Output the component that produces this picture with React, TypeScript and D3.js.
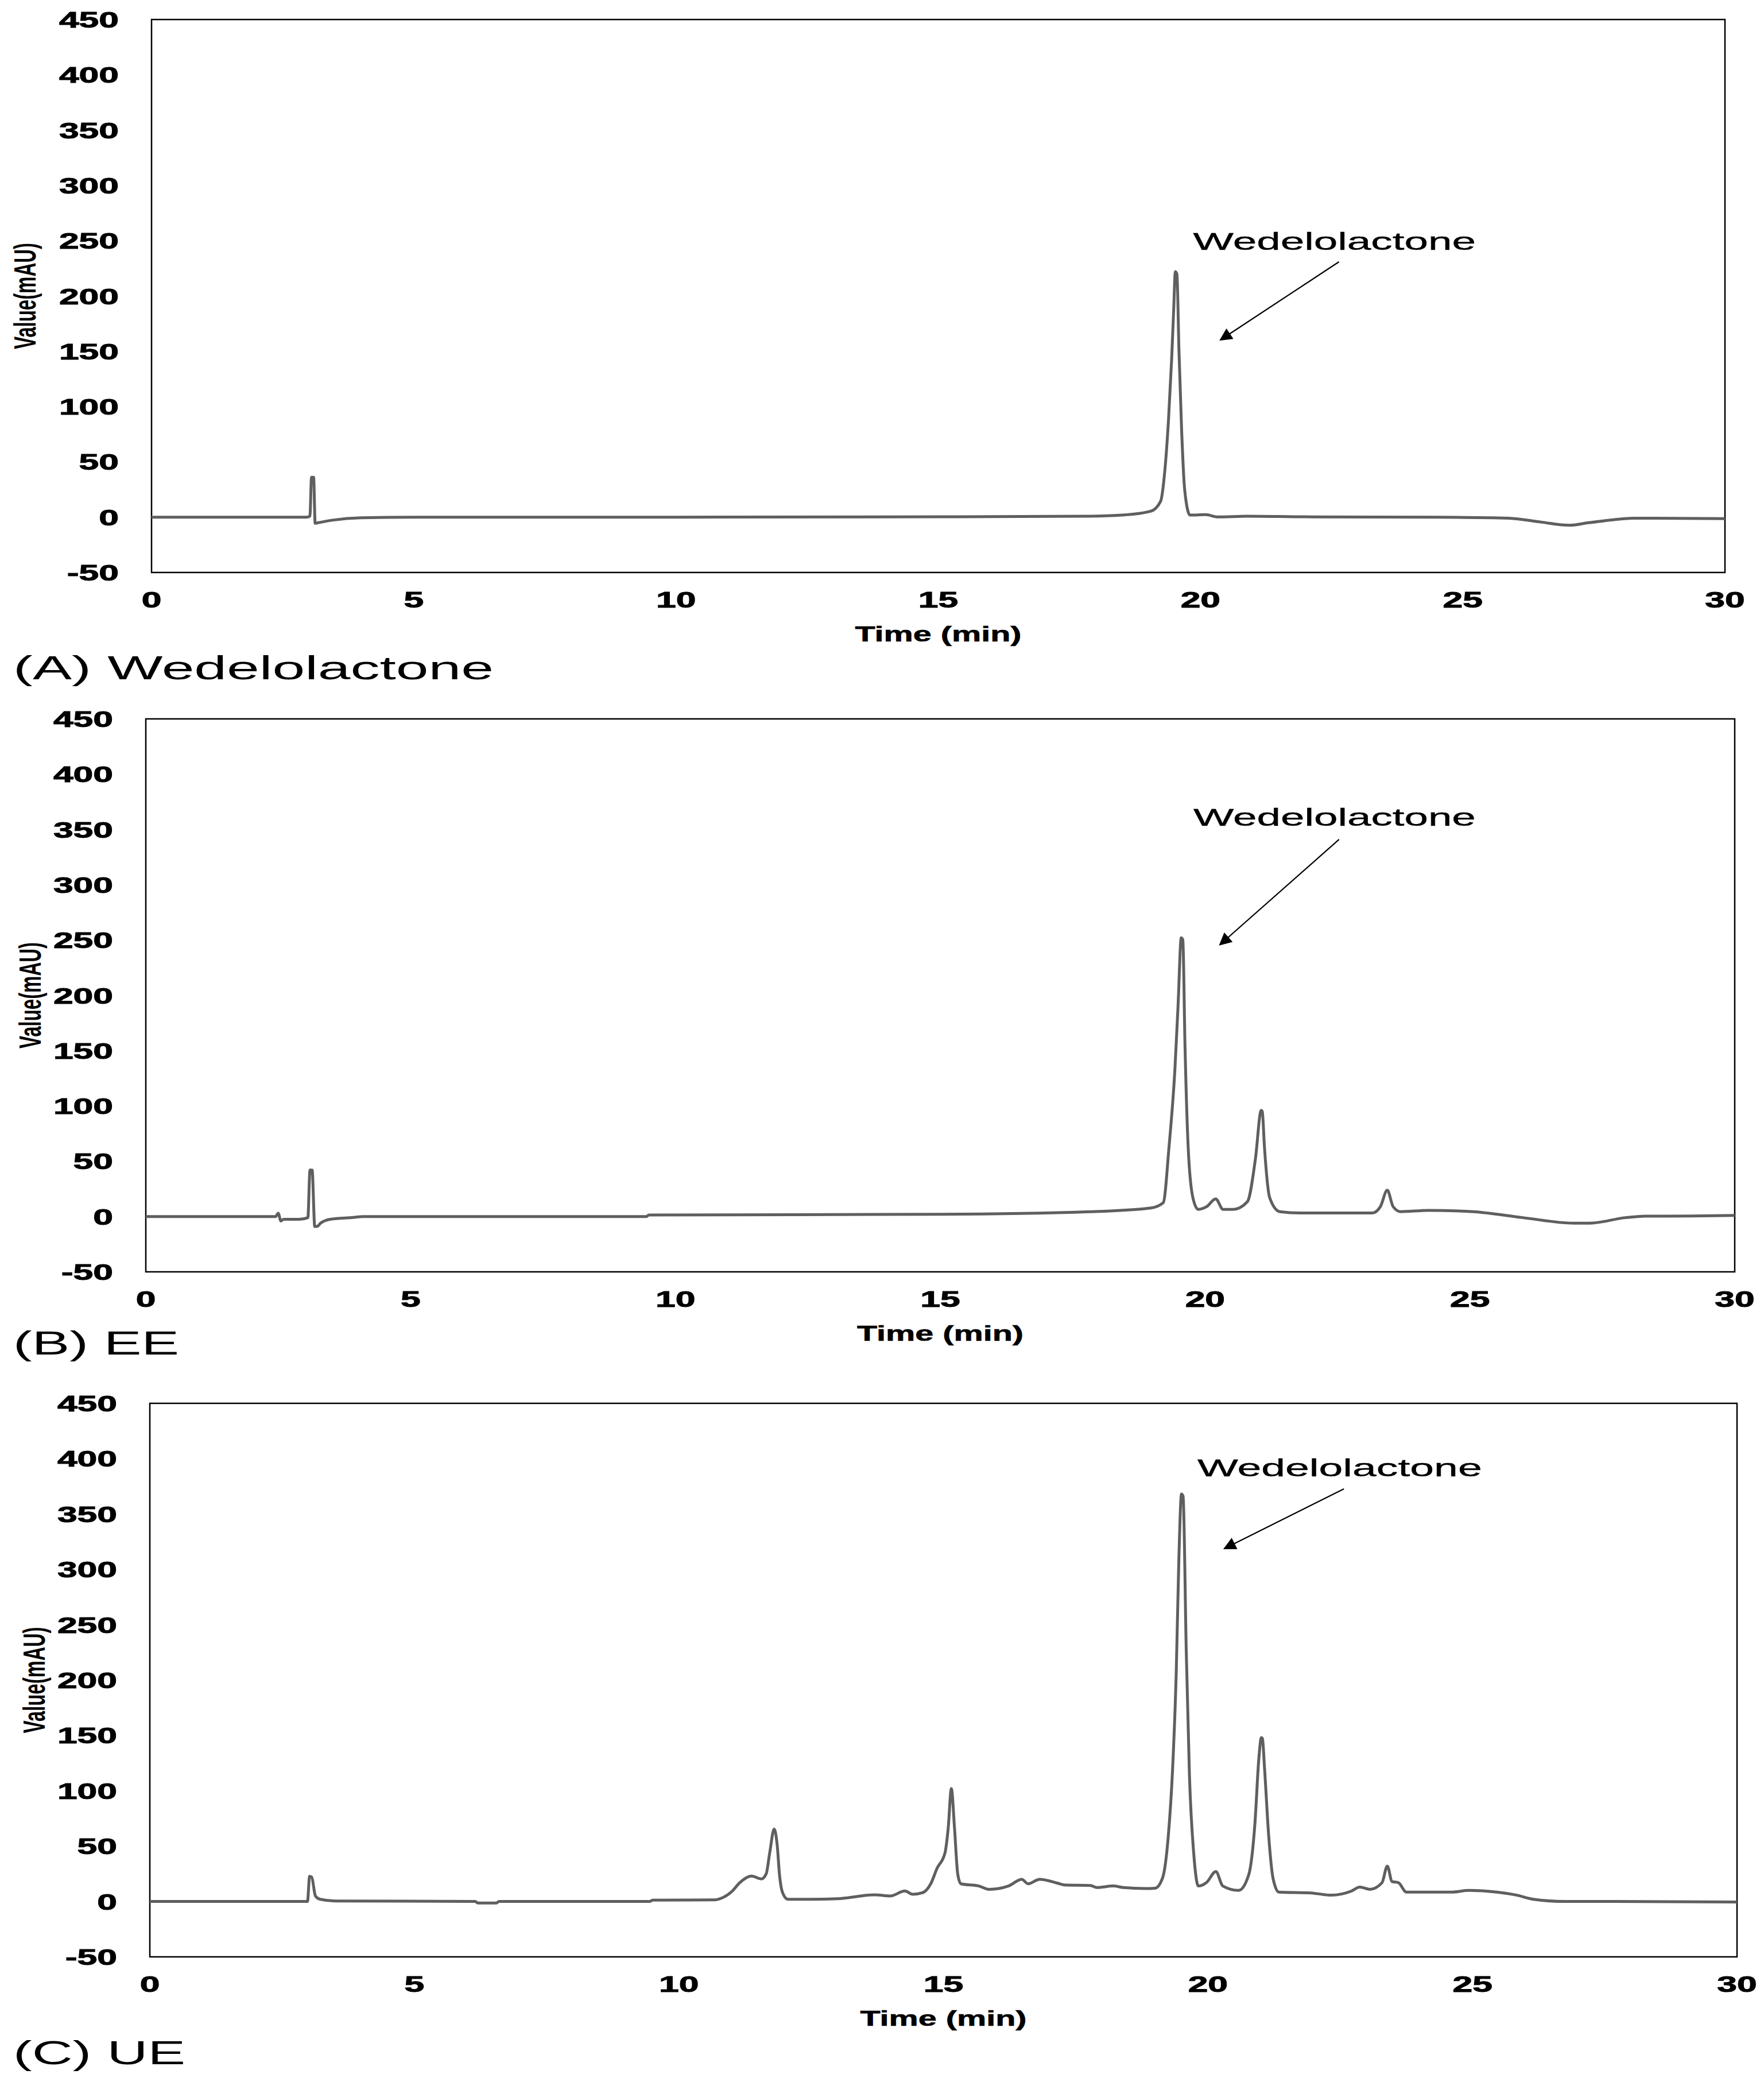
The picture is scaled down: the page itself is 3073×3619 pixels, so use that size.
import React from "react";
import * as d3 from "d3";

// ---------- DATA ----------
const xTicks = [0, 5, 10, 15, 20, 25, 30];
const yTicks = [-50, 0, 50, 100, 150, 200, 250, 300, 350, 400, 450];
const xLabel = "Time (min)";
const yLabel = "Value(mAU)";
const annotationText = "Wedelolactone";
const panelTitles = ["(A) Wedelolactone", "(B) EE", "(C) UE"];

// Chromatogram A: wedelolactone standard [time (min), mAU]
const seriesA: [number, number][] = [
  [0, 0], [2.95, 0], [3.02, 1], [3.05, 36], [3.09, 36], [3.12, -5.5], [3.18, -5],
  [3.45, -2.7], [4.0, -0.5], [5, 0], [10, 0], [15, 0.3], [17.9, 0.9], [18.5, 1.9],
  [19.05, 5.4], [19.24, 14.5], [19.32, 42], [19.39, 88], [19.45, 143], [19.49, 189],
  [19.52, 222], [19.55, 220], [19.59, 150], [19.64, 79], [19.7, 24], [19.8, 1.9], [20.1, 2.3],
  [20.33, 0.2], [20.89, 0.9], [22, 0.3], [24.5, 0], [25.88, -0.9], [26.5, -4.5],
  [27.03, -7.3], [27.4, -5], [27.87, -2.4], [28.25, -0.9], [30, -1.3],
];

// Chromatogram B: EE
const seriesB: [number, number][] = [
  [0, 0], [2.45, 0], [2.5, 3], [2.55, -4], [2.6, -2.5], [2.9, -2.5], [3.06, -1],
  [3.1, 42], [3.14, 42], [3.19, -9], [3.23, -9], [3.3, -6], [3.48, -2.5], [3.92, -0.8],
  [4.1, 0], [9.45, 0], [9.5, 1.4], [15, 2], [17.84, 4.4], [18.98, 7.8], [19.21, 12.5],
  [19.32, 63.5], [19.43, 133], [19.49, 191], [19.55, 252], [19.58, 250], [19.62, 156], [19.68, 63.5],
  [19.77, 17], [19.87, 6.5], [20.03, 9], [20.2, 16], [20.34, 6.5], [20.53, 6.5],
  [20.8, 13.5], [20.95, 52], [21.06, 96], [21.08, 95], [21.12, 63.5], [21.22, 17], [21.41, 4.4],
  [21.79, 3.2], [23.16, 3.2], [23.31, 9], [23.44, 23.8], [23.55, 9], [23.69, 4.4],
  [24.22, 5.6], [25.06, 4.4], [26.0, -1], [26.96, -6], [27.26, -6], [27.94, -1],
  [28.32, 0.3], [29.2, 0.5], [30, 1],
];

// Chromatogram C: UE
const seriesC: [number, number][] = [
  [0, 0], [2.98, 0], [3.02, 22.7], [3.06, 22], [3.13, 5], [3.22, 2], [3.5, 0.5],
  [6.15, 0], [6.2, -1.4], [6.55, -1.4], [6.6, 0], [9.45, 0], [9.5, 1.2], [10.68, 1.5],
  [10.85, 4], [11.0, 9], [11.15, 17], [11.37, 23], [11.56, 20.4], [11.65, 25],
  [11.72, 45], [11.8, 65.4], [11.86, 50], [11.9, 25], [11.96, 8], [12.06, 2],
  [12.5, 2], [13.0, 2.5], [13.7, 6], [14.0, 5], [14.27, 9.5], [14.42, 6.5], [14.61, 8],
  [14.76, 16], [14.88, 30], [15.03, 44], [15.09, 66], [15.15, 102], [15.21, 66],
  [15.27, 25], [15.33, 16], [15.67, 14], [15.86, 11], [16.23, 14], [16.48, 20],
  [16.6, 16], [16.82, 20], [17.16, 16.5], [17.28, 15], [17.78, 14.5], [17.9, 12.6],
  [18.21, 14], [18.4, 12.6], [18.81, 11.7], [19.0, 12], [19.14, 21], [19.25, 59],
  [19.33, 118], [19.4, 206], [19.45, 309], [19.5, 368], [19.53, 366], [19.59, 226], [19.65, 114],
  [19.73, 44], [19.82, 14], [19.97, 17], [20.15, 27], [20.28, 14], [20.58, 10],
  [20.77, 24], [20.89, 72], [20.96, 128], [21.01, 148], [21.03, 147], [21.07, 120], [21.15, 58],
  [21.23, 21], [21.34, 8.5], [21.95, 7.7], [22.33, 5.7], [22.71, 9.4], [22.87, 13],
  [23.06, 11], [23.29, 17], [23.39, 32], [23.48, 18], [23.6, 17], [23.75, 8.5],
  [24.62, 8.5], [24.93, 10], [25.46, 8.5], [25.84, 5.7], [26.15, 2], [26.76, 0],
  [27.67, 0], [30, -0.5],
];

// Annotation anchors in data units: text start/end time, text baseline value,
// arrow start (t, v), arrow end (t, v)
const annotA = { t0: 19.86, t1: 25.25, v: 241.8, a0: [22.64, 230.9], a1: [20.38, 160.3] };
const annotB = { t0: 19.78, t1: 25.11, v: 353.4, a0: [22.53, 341], a1: [20.28, 245.8] };
const annotC = { t0: 19.8, t1: 25.18, v: 384.1, a0: [22.57, 372.7], a1: [20.31, 318.8] };

// ---------- LAYOUT ----------
const W = 3073;
const H = 3619;
const SX = 1.6; // horizontal stretch of the original figure's text

const panels = [
  { data: seriesA, annot: annotA, title: panelTitles[0], titleW: 837, left: 264, right: 3005, top: 34, bottom: 997, yLabX: 42, titleY: 1162 },
  { data: seriesB, annot: annotB, title: panelTitles[1], titleW: 289, left: 254, right: 3022, top: 1252, bottom: 2215, yLabX: 51, titleY: 2338 },
  { data: seriesC, annot: annotC, title: panelTitles[2], titleW: 300, left: 261, right: 3026, top: 2444, bottom: 3408, yLabX: 58, titleY: 3574 },
];

const FONT = "'Liberation Sans', Arial, sans-serif";

function Panel({ p, idx }: { p: (typeof panels)[number]; idx: number }) {
  const x = d3.scaleLinear().domain([0, 30]).range([p.left, p.right]);
  const y = d3.scaleLinear().domain([-50, 450]).range([p.bottom, p.top]);
  const line = d3
    .line<[number, number]>()
    .x((d) => x(d[0]))
    .y((d) => y(d[1]))
    .curve(d3.curveMonotoneX);
  const a = p.annot;
  const midX = (p.left + p.right) / 2;
  const midY = (p.top + p.bottom) / 2;
  return (
    <g>
      <rect x={p.left} y={p.top} width={p.right - p.left} height={p.bottom - p.top} fill="none" stroke="#000" strokeWidth={2.5} />
      <path d={line(p.data) || ""} fill="none" stroke="#5f5f5f" strokeWidth={5} strokeLinejoin="round" />
      {yTicks.map((t) => (
        <g key={"y" + t} transform={`translate(${p.left - 57},${y(t)}) scale(${SX},1)`}>
          <text textAnchor="end" dy="0.36em" fontSize={39} fontWeight="bold" fontFamily={FONT} fill="#000" stroke="#000" strokeWidth={1}>
            {t}
          </text>
        </g>
      ))}
      {xTicks.map((t) => (
        <g key={"x" + t} transform={`translate(${x(t)},${p.bottom + 47}) scale(${SX},1)`}>
          <text textAnchor="middle" dy="0.36em" fontSize={39} fontWeight="bold" fontFamily={FONT} fill="#000" stroke="#000" strokeWidth={1}>
            {t}
          </text>
        </g>
      ))}
      <g transform={`translate(${midX},${p.bottom + 107}) scale(${SX},1)`}>
        <text textAnchor="middle" dy="0.36em" fontSize={36} fontWeight="bold" fontFamily={FONT} fill="#000" stroke="#000" strokeWidth={0.6}>
          {xLabel}
        </text>
      </g>
      <g transform={`translate(${p.yLabX},${midY}) scale(${SX},1) rotate(-90)`}>
        <text textAnchor="middle" dy="0.36em" fontSize={34} fontWeight="bold" fontFamily={FONT} fill="#000" textLength={185} lengthAdjust="spacingAndGlyphs">
          {yLabel}
        </text>
      </g>
      <text x={x(a.t0)} y={y(a.v)} fontSize={42} fontFamily={FONT} fill="#000" stroke="#000" strokeWidth={0.4} textLength={x(a.t1) - x(a.t0)} lengthAdjust="spacingAndGlyphs">
        {annotationText}
      </text>
      <line x1={x(a.a0[0])} y1={y(a.a0[1])} x2={x(a.a1[0])} y2={y(a.a1[1])} stroke="#000" strokeWidth={2.2} markerEnd={`url(#arrow${idx})`} />
      <text x={23} y={p.titleY} dy="0.36em" fontSize={58} fontFamily={FONT} fill="#000" textLength={p.titleW} lengthAdjust="spacingAndGlyphs">
        {p.title}
      </text>
    </g>
  );
}

export default function App() {
  return (
    <svg width={W} height={H} viewBox={`0 0 ${W} ${H}`} style={{ position: "absolute", left: 0, top: 0, background: "#fff" }}>
      <defs>
        {panels.map((_, i) => (
          <marker key={i} id={`arrow${i}`} viewBox="0 0 10 10" refX={9} refY={5} markerUnits="userSpaceOnUse" markerWidth={30} markerHeight={22} orient="auto">
            <path d="M0,0 L10,5 L0,10 Z" fill="#000" />
          </marker>
        ))}
      </defs>
      <rect x={0} y={0} width={W} height={H} fill="#fff" />
      {panels.map((p, i) => (
        <Panel key={i} p={p} idx={i} />
      ))}
    </svg>
  );
}
